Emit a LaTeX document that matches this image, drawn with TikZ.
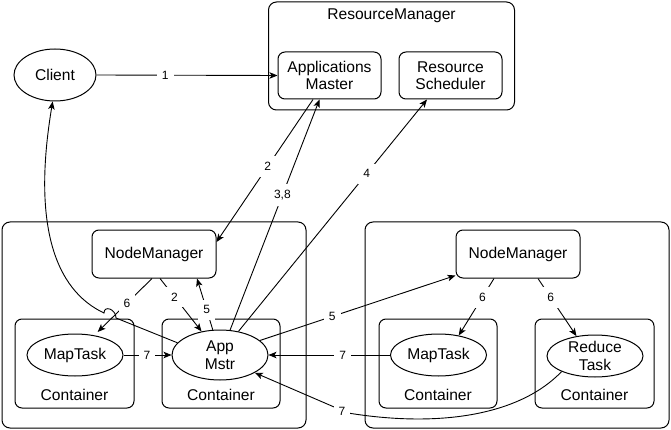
\documentclass[tikz,border=0pt]{standalone}
\usepackage{fontspec}
\setmainfont{Liberation Sans}
\usetikzlibrary{arrows.meta,shapes.geometric}
\begin{document}
\begin{tikzpicture}[x=1pt,y=-1pt,
  box/.style={draw, rounded corners=8pt, line width=1pt, fill=white, inner sep=0pt},
  sbox/.style={box, rounded corners=7pt},
  txt/.style={font=\fontsize{15.6}{17.5}\selectfont, align=center, inner sep=0pt},
  ell/.style={draw, ellipse, inner sep=0pt, line width=1pt, fill=white},
  lbl/.style={fill=white, inner xsep=5pt, inner ysep=6pt, font=\fontsize{12}{14}\selectfont},
  arr/.style={-{Stealth[length=8pt,width=6.5pt,inset=2pt]}, line width=0.9pt}
]
\useasboundingbox (0,0) rectangle (671,430);

% ResourceManager
\node[box, minimum width=246pt, minimum height=108pt] (rm) at (391.5,56) {};
\node[txt] (rmt) at (391.5,15.5) {ResourceManager};
\node[sbox, txt, minimum width=103pt, minimum height=47pt] (amaster) at (329.5,75.5) {Applications\\Master};
\node[sbox, txt, minimum width=103pt, minimum height=47pt] (rs) at (450.5,75.5) {Resource\\Scheduler};

% Client
\node[ell, txt, minimum width=82pt, minimum height=52pt] (client) at (55,75) {Client};

% Left node
\node[box, minimum width=304pt, minimum height=206pt] (nodeL) at (154,325) {};
\node[sbox, txt, minimum width=124pt, minimum height=48pt] (nmL) at (154,254) {NodeManager};
\node[sbox, minimum width=119pt, minimum height=89pt] (cL1) at (74.5,363.5) {};
\node[txt] (cL1t) at (74.5,395) {Container};
\node[sbox, minimum width=118pt, minimum height=89pt] (cL2) at (221,363.5) {};
\node[txt] (cL2t) at (221,395) {Container};
\node[ell, minimum width=96pt, minimum height=42pt] (mtL) at (75,355) {};
\node[txt] (mtLt) at (75,355) {MapTask};
\node[ell, minimum width=96pt, minimum height=50pt] (am) at (220,355) {};
\node[txt] (amt) at (220,355) {App\\Mstr};

% Right node
\node[box, minimum width=304pt, minimum height=206pt] (nodeR) at (517,325) {};
\node[sbox, txt, minimum width=124pt, minimum height=48pt] (nmR) at (518,254) {NodeManager};
\node[sbox, minimum width=118pt, minimum height=89pt] (cR1) at (438,363.5) {};
\node[txt] (cR1t) at (438,395) {Container};
\node[sbox, minimum width=119pt, minimum height=89pt] (cR2) at (594.5,363.5) {};
\node[txt] (cR2t) at (594.5,395) {Container};
\node[ell, minimum width=96pt, minimum height=42pt] (mtR) at (438.5,355) {};
\node[txt] (mtRt) at (438.5,355) {MapTask};
\node[ell, minimum width=96pt, minimum height=42pt] (rt) at (595,356) {};
\node[txt] (rtt) at (595,356) {Reduce\\Task};

% Connectors
\draw[arr] (client.east) -- node[lbl,pos=0.38]{1} (amaster.west);
\draw[arr] ([xshift=-16.5pt]amaster.south) -- node[lbl,pos=0.47]{2} ([yshift=12pt]nmL.east);
\draw[arr] (am.68) -- node[lbl,pos=0.585]{3,8} ([xshift=-10pt]amaster.south);
\draw[arr] (am.52) -- node[lbl,pos=0.68]{4} ([xshift=-23.5pt]rs.south);
\draw[arr] ([xshift=6pt]nmL.south) -- node[lbl,pos=0.35]{2} (am.128);
\draw[arr] (am.106) -- node[lbl,pos=0.39]{5} ([xshift=43pt]nmL.south);
\draw[arr] ([xshift=-2pt]nmL.south) -- node[lbl,pos=0.46]{6} ([yshift=4pt]mtL.40);
\draw[arr] (am.20) -- node[lbl,pos=0.37]{5} ([yshift=3pt]nmR.south west);
\draw[arr] ([xshift=-24pt]nmR.south) -- node[lbl,pos=0.33]{6} (mtR.44);
\draw[arr] ([xshift=20pt]nmR.south) -- node[lbl,pos=0.33]{6} (rt.133);
\draw[arr] (mtL.east) -- node[lbl,pos=0.49]{7} (am.west);
\draw[arr] (mtR.west) -- node[lbl,pos=0.39]{7} (am.east);
\coordinate (bend7) at (348,413);
\draw[arr] (rt.205) .. controls (520,415) and (440,428) .. (bend7) -- (am.-27);
\node[lbl] (l7c) at (342,411.5) {7};
\coordinate (hopA) at (116,318);
\coordinate (hopB) at (104,313);
\draw[arr] (am.164) -- (hopA) .. controls (116,309) and (104,305) .. (hopB)
  .. controls (55,290) and (32,225) .. (client.265);
\end{tikzpicture}
\end{document}
